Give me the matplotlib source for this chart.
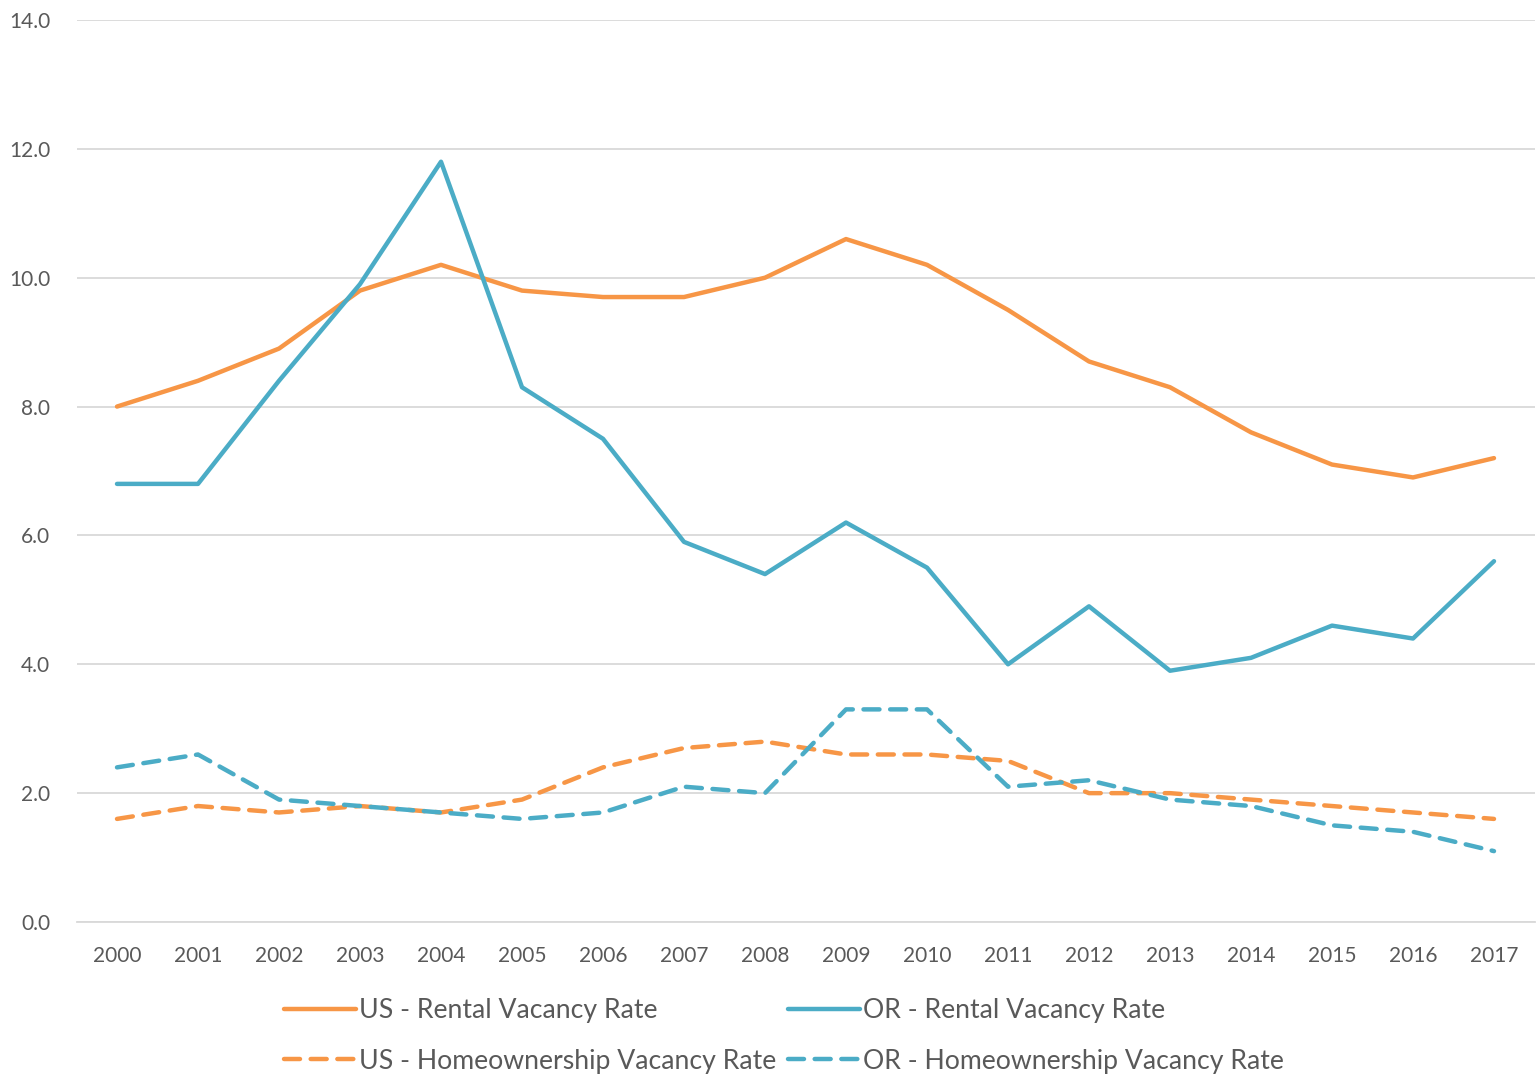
import matplotlib
matplotlib.use("Agg")
import matplotlib.pyplot as plt

years = [str(y) for y in range(2000, 2018)]
us_rental = [8.0, 8.4, 8.9, 9.8, 10.2, 9.8, 9.7, 9.7, 10.0, 10.6, 10.2, 9.5, 8.7, 8.3, 7.6, 7.1, 6.9, 7.2]
or_rental = [6.8, 6.8, 8.4, 9.9, 11.8, 8.3, 7.5, 5.9, 5.4, 6.2, 5.5, 4.0, 4.9, 3.9, 4.1, 4.6, 4.4, 5.6]
us_home = [1.6, 1.8, 1.7, 1.8, 1.7, 1.9, 2.4, 2.7, 2.8, 2.6, 2.6, 2.5, 2.0, 2.0, 1.9, 1.8, 1.7, 1.6]
or_home = [2.4, 2.6, 1.9, 1.8, 1.7, 1.6, 1.7, 2.1, 2.0, 3.3, 3.3, 2.1, 2.2, 1.9, 1.8, 1.5, 1.4, 1.1]
yticks = [0, 2, 4, 6, 8, 10, 12, 14]

ORANGE = "#F79646"
BLUE = "#4BACC6"
TXT = "#595959"
plt.rcParams['font.family'] = ['Lato', 'DejaVu Sans']

fig = plt.figure(figsize=(15.37, 10.81), dpi=100)
ax = fig.add_axes([76.5/1537, 1-922/1081, (1534.5-76.5)/1537, (922-20)/1081])

x = list(range(len(years)))
lw = 3.2
dash = (3.6, 2.4)
l1, = ax.plot(x, us_rental, color=ORANGE, lw=lw, solid_capstyle='round', solid_joinstyle='round', label='US - Rental Vacancy Rate')
l2, = ax.plot(x, or_rental, color=BLUE, lw=lw, solid_capstyle='round', solid_joinstyle='round', label='OR - Rental Vacancy Rate')
l3, = ax.plot(x, us_home, color=ORANGE, lw=lw, dashes=dash, dash_capstyle='round', dash_joinstyle='round', label='US - Homeownership Vacancy Rate')
l4, = ax.plot(x, or_home, color=BLUE, lw=lw, dashes=dash, dash_capstyle='round', dash_joinstyle='round', label='OR - Homeownership Vacancy Rate')

ax.set_xlim(-0.5, len(years) - 0.5)
ax.set_ylim(0, 14)
ax.set_yticks(yticks)
ax.set_yticklabels([f"{v:.1f}" for v in yticks])
ax.set_xticks(x)
ax.set_xticklabels(years)
ax.yaxis.grid(True, color="#D9D9D9", lw=1.3)
ax.set_axisbelow(True)
for s in ax.spines.values():
    s.set_visible(False)
ax.spines['bottom'].set_visible(True)
ax.spines['bottom'].set_color("#D9D9D9")
ax.spines['bottom'].set_linewidth(1.3)
ax.tick_params(axis='both', length=0, labelsize=15, labelcolor=TXT)
ax.tick_params(axis='y', pad=19)
ax.tick_params(axis='x', pad=17)

handles = [l1, l3, l2, l4]
fig.legend(handles=handles, labels=[h.get_label() for h in handles], ncol=2,
           loc='center left', bbox_to_anchor=(271/1537, 1-1036/1081),
           frameon=False, fontsize=19.2, labelcolor=TXT, handlelength=2.7,
           handletextpad=0.1, columnspacing=0.45, labelspacing=0.95, borderpad=0)

fig.savefig("out.png", dpi=100, facecolor="white")
